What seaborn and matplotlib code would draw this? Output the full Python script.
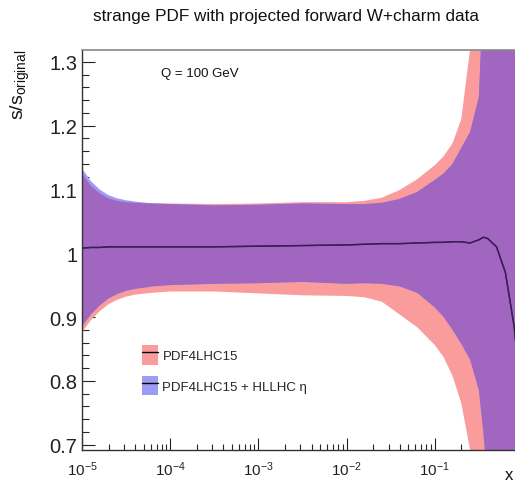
import numpy as np
import matplotlib
matplotlib.use("Agg")
import matplotlib.pyplot as plt
import seaborn as sns
from matplotlib.patches import Patch
from matplotlib.lines import Line2D
from matplotlib.ticker import LogLocator, LogFormatterSciNotation, FixedLocator, MultipleLocator, FuncFormatter

# ---------------- data ----------------
log10_x = [-5.0, -4.9, -4.8, -4.7, -4.6, -4.5, -4.4, -4.2, -4.0, -3.5, -3.0, -2.5,
           -2.0, -1.8, -1.6, -1.4, -1.2, -1.0, -0.9, -0.8, -0.7, -0.6, -0.5, -0.45,
           -0.4, -0.3, -0.2, -0.1, 0.0]

# PDF4LHC15 band (pink)
pdf4lhc_upper = [1.125, 1.106, 1.094, 1.086, 1.082, 1.080, 1.079, 1.078, 1.078, 1.077, 1.078, 1.080,
                 1.080, 1.082, 1.087, 1.099, 1.116, 1.138, 1.152, 1.172, 1.210, 1.320, 1.500, 1.600,
                 1.700, 1.900, 2.100, 2.300, 2.500]
pdf4lhc_lower = [0.876, 0.895, 0.909, 0.920, 0.927, 0.932, 0.935, 0.938, 0.940, 0.940, 0.937, 0.934,
                 0.933, 0.931, 0.924, 0.904, 0.884, 0.856, 0.837, 0.808, 0.765, 0.692, 0.550, 0.450,
                 0.350, 0.200, 0.100, 0.000, -0.100]

# PDF4LHC15 + HLLHC eta band (blue)
hllhc_upper = [1.133, 1.113, 1.100, 1.091, 1.086, 1.083, 1.081, 1.078, 1.077, 1.075, 1.076, 1.078,
               1.077, 1.077, 1.079, 1.085, 1.096, 1.115, 1.125, 1.140, 1.165, 1.190, 1.245, 1.420,
               1.550, 1.700, 1.900, 2.100, 2.300]
hllhc_lower = [0.885, 0.904, 0.918, 0.929, 0.936, 0.941, 0.944, 0.948, 0.950, 0.952, 0.953, 0.955,
               0.952, 0.953, 0.952, 0.948, 0.938, 0.915, 0.900, 0.880, 0.858, 0.833, 0.785, 0.720,
               0.640, 0.500, 0.350, 0.200, 0.000]

# central values
pdf4lhc_central = [1.008, 1.009, 1.009, 1.010, 1.010, 1.010, 1.010, 1.010, 1.010, 1.010, 1.011, 1.012,
                   1.013, 1.014, 1.015, 1.015, 1.016, 1.017, 1.017, 1.018, 1.018, 1.016, 1.021, 1.025,
                   1.023, 1.010, 0.970, 0.885, 0.740]
hllhc_central = list(pdf4lhc_central)

x_ticks = [1e-5, 1e-4, 1e-3, 1e-2, 1e-1]
y_ticks = [0.7, 0.8, 0.9, 1.0, 1.1, 1.2, 1.3]
labels = ["PDF4LHC15", "PDF4LHC15 + HLLHC \u03b7"]
title = "strange PDF with projected forward W+charm data"
annotation = "Q = 100 GeV"

# ---------------- style ----------------
sns.set_style("white")
plt.rcParams["font.family"] = ["Liberation Sans", "DejaVu Sans"]
plt.rcParams["mathtext.fontset"] = "custom"
plt.rcParams["mathtext.rm"] = "Liberation Sans"
plt.rcParams["mathtext.it"] = "Liberation Sans:italic"
plt.rcParams["mathtext.bf"] = "Liberation Sans:bold"

pink = "#fa9c9c"
blue = "#9c9cf6"
purple = "#a066c0"
line_col = "#3a1f55"

W, H = 515, 485
fig = plt.figure(figsize=(W / 100, H / 100), dpi=100)
ax = fig.add_axes([82 / W, (H - 450.7) / H, 441 / W, 400 / H])

x = 10 ** np.array(log10_x)
u1, l1 = np.array(pdf4lhc_upper), np.array(pdf4lhc_lower)
u2, l2 = np.array(hllhc_upper), np.array(hllhc_lower)

ax.fill_between(x, l1, u1, color=pink, lw=0, zorder=1)
ax.fill_between(x, l2, u2, color=blue, lw=0, zorder=2)
ax.fill_between(x, np.maximum(l1, l2), np.minimum(u1, u2), color=purple, lw=0, zorder=3)

sns.lineplot(x=x, y=pdf4lhc_central, ax=ax, color=line_col, lw=1.0, zorder=4, estimator=None, sort=False)
sns.lineplot(x=x, y=hllhc_central, ax=ax, color=line_col, lw=1.0, zorder=4, estimator=None, sort=False)

ax.set_xscale("log")
ax.set_xlim(1e-5, 1.0)
ax.set_ylim(0.692, 1.319)

ax.xaxis.set_major_locator(FixedLocator(x_ticks))
ax.xaxis.set_minor_locator(LogLocator(base=10, subs=np.arange(2, 10), numticks=10))
ax.xaxis.set_major_formatter(LogFormatterSciNotation())
ax.yaxis.set_major_locator(FixedLocator(y_ticks))
ax.yaxis.set_minor_locator(MultipleLocator(0.02))
ax.yaxis.set_major_formatter(FuncFormatter(lambda v, p: f"{v:g}"))

ax.tick_params(axis="y", which="major", direction="in", length=9.4, width=0.8, pad=3.2,
               labelsize=14.5, colors="#222222", left=True, right=False)
ax.tick_params(axis="y", which="minor", direction="in", length=5, width=0.8, left=True, right=False)
ax.tick_params(axis="x", which="major", direction="in", length=8.5, width=0.8, pad=7,
               labelsize=11, colors="#222222", bottom=True, top=False)
ax.tick_params(axis="x", which="minor", direction="in", length=4, width=0.8, bottom=True, top=False)

for s in ["left", "bottom"]:
    ax.spines[s].set_color("#333333")
    ax.spines[s].set_linewidth(1.0)
ax.spines["top"].set_color("#888888")
ax.spines["top"].set_linewidth(1.2)
ax.spines["right"].set_visible(False)
for s in ax.spines.values():
    s.set_zorder(6)

ax.set_xlabel("")
ax.set_ylabel("")

# annotation
fig.text(161 / W, 1 - 74 / H, annotation, fontsize=9.5, ha="left", va="center", color="#111111")

# legend
handles = [(Patch(facecolor=pink, edgecolor="none"), Line2D([], [], color="black", lw=1.0)),
           (Patch(facecolor=blue, edgecolor="none"), Line2D([], [], color="black", lw=1.0))]
ax.legend(handles=handles, labels=labels, loc="upper left", bbox_to_anchor=(142 / W, 1 - 346 / H),
          bbox_transform=fig.transFigure, frameon=False, fontsize=9.5, handlelength=1.25,
          handleheight=1.9, handletextpad=0.3, labelspacing=0.85, borderpad=0, borderaxespad=0)

# title and axis labels
fig.text(286 / W, 1 - 17 / H, title, fontsize=12.3, ha="center", va="center", color="#111111")
fig.text(20 / W, 1 - 85 / H, r"s/s$_{\mathregular{original}}$", fontsize=14, rotation=90,
         ha="center", va="center", color="#111111")
fig.text(513 / W, 1 - 476 / H, "x", fontsize=12, ha="right", va="center", color="#111111")

fig.savefig("out.png", dpi=100)
